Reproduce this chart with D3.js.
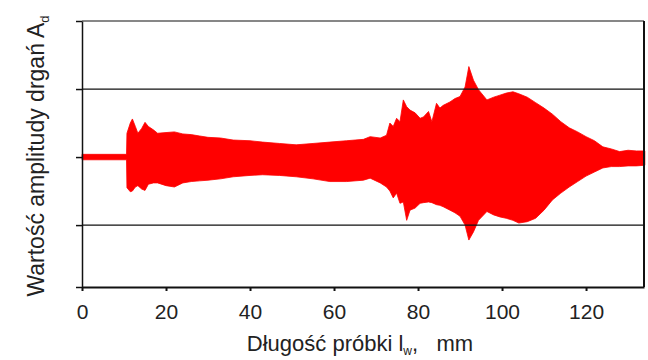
<!DOCTYPE html>
<html>
<head>
<meta charset="utf-8">
<script src="https://cdn.jsdelivr.net/npm/d3@7"></script>
<style>
  body { margin: 0; background: #fff; }
  svg { display: block; font-family: "Liberation Sans", Arial, sans-serif; }
</style>
</head>
<body>
<script>
// sample length (mm) where the envelope was read
const position = [0, 10.6, 10.7, 11.5, 12, 12.7, 13.3, 14.2, 15, 15.8, 17, 18, 20, 22, 24, 26, 28, 30, 33, 36,
  40, 43, 47, 51, 55, 59, 63, 67, 68.6, 71, 72.5, 73.3, 74.1, 74.9, 75.7, 76.5, 77.3, 78.1, 79.3, 80.5,
  81.3, 82.5, 83.3, 84.4, 85.2, 86, 87.6, 88.8, 90, 91.2, 92.1, 93.2, 94.4, 96.4, 98, 99.5, 101, 102.6, 104, 106,
  108, 110, 112, 114, 116, 118, 120, 122, 124, 126, 128, 130, 132, 134];
// upper / lower envelope of the vibration amplitude
const upper = [0.04, 0.04, 0.35, 0.5, 0.56, 0.45, 0.35, 0.42, 0.51, 0.45, 0.4, 0.35, 0.36, 0.37, 0.34, 0.33, 0.31, 0.29, 0.28, 0.25,
  0.24, 0.22, 0.2, 0.18, 0.2, 0.22, 0.24, 0.26, 0.30, 0.28, 0.32, 0.5, 0.45, 0.57, 0.52, 0.84, 0.74, 0.69, 0.65, 0.57,
  0.59, 0.67, 0.52, 0.79, 0.72, 0.76, 0.81, 0.86, 0.89, 1.03, 1.33, 1.13, 0.99, 0.84, 0.88, 0.91, 0.94, 0.96, 0.93, 0.88,
  0.8, 0.72, 0.63, 0.52, 0.43, 0.37, 0.3, 0.24, 0.15, 0.12, 0.08, 0.1, 0.09, 0.09];
const lower = [-0.04, -0.04, -0.45, -0.51, -0.5, -0.44, -0.42, -0.47, -0.49, -0.4, -0.38, -0.38, -0.42, -0.44, -0.38, -0.36, -0.35, -0.34, -0.32, -0.29,
  -0.27, -0.26, -0.27, -0.29, -0.32, -0.36, -0.36, -0.34, -0.31, -0.38, -0.44, -0.5, -0.6, -0.53, -0.68, -0.66, -0.93, -0.78, -0.75, -0.68,
  -0.67, -0.66, -0.67, -0.7, -0.71, -0.73, -0.78, -0.82, -0.87, -1.0, -1.22, -1.1, -0.93, -0.8, -0.85, -0.88, -0.9, -0.93, -0.97, -0.95,
  -0.9, -0.78, -0.63, -0.53, -0.44, -0.36, -0.28, -0.22, -0.16, -0.14, -0.14, -0.13, -0.13, -0.12];

const xTicks = [0, 20, 40, 60, 80, 100, 120];
const yTicks = [-1.91, -1, 0, 1, 2];
const gridValues = [-1, 1, 2];

const width = 648, height = 360;
const margin = {left: 82, top: 21, right: 4, bottom: 73};

const svg = d3.select('body').append('svg')
  .attr('width', width)
  .attr('height', height);

const x = d3.scaleLinear().domain([0, 133.8]).range([margin.left, width - margin.right]);
const y = d3.scaleLinear().domain([-1.91, 2]).range([height - margin.bottom, margin.top]);

const data = position.map((p, i) => ({p: p, hi: upper[i], lo: lower[i]}));

// signal band
const area = d3.area()
  .x(d => x(d.p))
  .y0(d => y(d.lo))
  .y1(d => y(d.hi));

svg.append('path')
  .datum(data)
  .attr('d', area)
  .attr('fill', '#ff0000')
  .attr('stroke', '#ff0000')
  .attr('stroke-width', 0.8)
  .attr('stroke-linejoin', 'round');

// horizontal grid
svg.append('g').selectAll('line')
  .data(gridValues)
  .enter().append('line')
  .attr('x1', x(0)).attr('x2', width - margin.right)
  .attr('y1', d => y(d)).attr('y2', d => y(d))
  .attr('stroke', '#111').attr('stroke-width', 1.2);

// right border
svg.append('line')
  .attr('x1', width - margin.right).attr('x2', width - margin.right)
  .attr('y1', margin.top).attr('y2', y(-1.91))
  .attr('stroke', '#111').attr('stroke-width', 2);

const xAxis = d3.axisBottom(x).tickValues(xTicks).tickSize(4).tickSizeOuter(0).tickPadding(13);
const yAxis = d3.axisLeft(y).tickValues(yTicks).tickSize(6).tickSizeOuter(0).tickFormat('');

const gx = svg.append('g')
  .attr('transform', `translate(0,${y(-1.91)})`)
  .call(xAxis);
gx.select('.domain').attr('stroke', '#111').attr('stroke-width', 2);
gx.selectAll('.tick line').attr('stroke', '#111').attr('stroke-width', 2);
gx.selectAll('.tick text').attr('font-size', 21).attr('fill', '#222')
  .attr('font-family', '"Liberation Sans", Arial, sans-serif');

const gy = svg.append('g')
  .attr('transform', `translate(${x(0)},0)`)
  .call(yAxis);
gy.select('.domain').attr('stroke', '#111').attr('stroke-width', 1.5);
gy.selectAll('.tick line').attr('stroke', '#111').attr('stroke-width', 1.5);

// axis titles
const xt = svg.append('text')
  .attr('x', 360).attr('y', 351)
  .attr('text-anchor', 'middle')
  .attr('font-size', 22).attr('fill', '#222');
xt.append('tspan').text('Długość próbki l');
xt.append('tspan').attr('font-size', 12).attr('dy', 4).text('w');
xt.append('tspan').attr('dy', -4).text(',\u00a0\u00a0\u00a0mm');

const yt = svg.append('text')
  .attr('transform', 'translate(44,156) rotate(-90)')
  .attr('text-anchor', 'middle')
  .attr('font-size', 23).attr('fill', '#222');
yt.append('tspan').text('Wartość amplitudy drgań A');
yt.append('tspan').attr('font-size', 13).attr('dy', 5).text('d');
</script>
</body>
</html>
